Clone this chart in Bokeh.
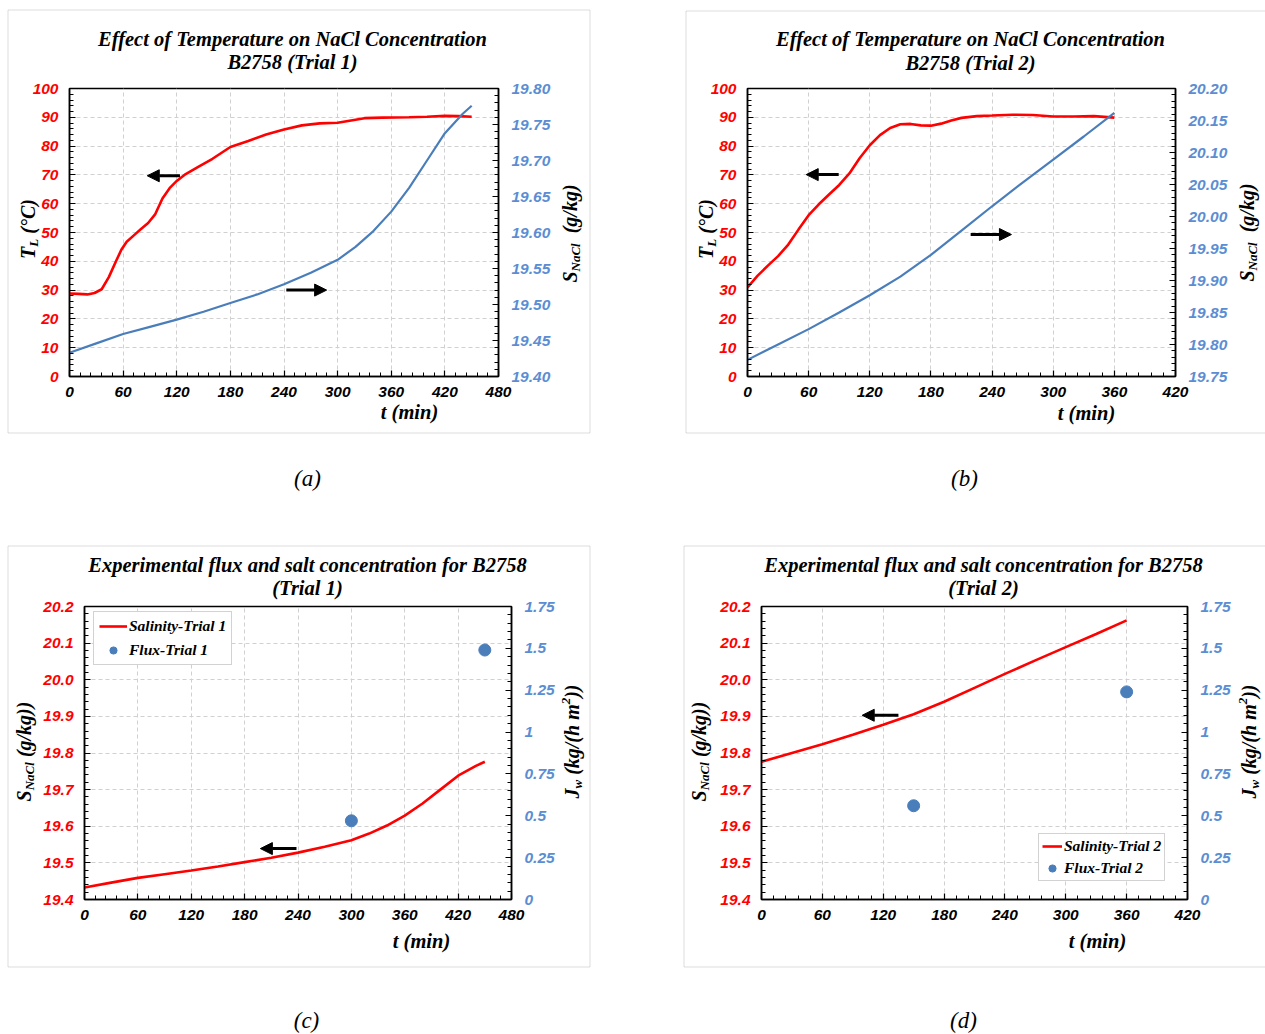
from bokeh.plotting import figure
from bokeh.models import (Range1d, LinearAxis, FixedTicker, PrintfTickFormatter,
                          NumeralTickFormatter, Label, Arrow, NormalHead, Legend,
                          LegendItem, Spacer, GridBox, BoxAnnotation)
from bokeh.layouts import row, column
from bokeh.embed import file_html
from bokeh.resources import INLINE

# ---------------- data ----------------
time_temp_1 = [0, 10, 20, 28, 36, 44, 52, 58, 64, 72, 80, 88, 96, 104, 112, 120, 130, 145,
               160, 180, 200, 220, 240, 260, 280, 300, 315, 330, 350, 380, 400, 420, 435, 450]
temp_1 = [28.8, 28.7, 28.5, 29.0, 30.3, 34.5, 40.0, 44.0, 46.8, 49.0, 51.2, 53.3, 56.4, 61.8,
          65.4, 67.9, 70.3, 73.0, 75.6, 79.7, 81.8, 84.0, 85.8, 87.2, 87.9, 88.1, 88.9, 89.7,
          89.9, 90.0, 90.2, 90.5, 90.4, 90.2]

time_sal_1 = [0, 30, 60, 90, 120, 150, 180, 210, 240, 270, 300, 320, 340, 360, 380, 400, 420, 440, 450]
sal_1 = [19.433, 19.446, 19.459, 19.469, 19.479, 19.490, 19.502, 19.514, 19.528, 19.544,
         19.562, 19.580, 19.602, 19.629, 19.662, 19.700, 19.738, 19.765, 19.776]

time_temp_2 = [0, 10, 20, 30, 40, 50, 60, 70, 80, 90, 100, 110, 120, 130, 140, 150, 160, 170,
               180, 190, 200, 210, 225, 240, 260, 280, 300, 320, 340, 360]
temp_2 = [30.9, 35.0, 38.5, 41.8, 45.8, 51.0, 56.0, 59.8, 63.2, 66.5, 70.5, 75.8, 80.3, 83.8,
          86.3, 87.6, 87.7, 87.2, 87.1, 87.8, 88.9, 89.8, 90.4, 90.6, 90.9, 90.8, 90.3, 90.3,
          90.4, 89.9]

time_sal_2 = [0, 30, 60, 90, 120, 150, 180, 210, 240, 270, 300, 330, 360]
sal_2 = [19.776, 19.800, 19.824, 19.850, 19.877, 19.906, 19.940, 19.978, 20.016, 20.053,
         20.089, 20.125, 20.162]

time_flux_1 = [300, 450]
flux_1 = [0.47, 1.49]
time_flux_2 = [150, 360]
flux_2 = [0.56, 1.24]

x_ticks_480 = [0, 60, 120, 180, 240, 300, 360, 420, 480]
x_ticks_420 = [0, 60, 120, 180, 240, 300, 360, 420]
temp_ticks = [0, 10, 20, 30, 40, 50, 60, 70, 80, 90, 100]
sal_ticks_a = [19.40, 19.45, 19.50, 19.55, 19.60, 19.65, 19.70, 19.75, 19.80]
sal_ticks_b = [19.75, 19.80, 19.85, 19.90, 19.95, 20.00, 20.05, 20.10, 20.15, 20.20]
sal_ticks_cd = [19.4, 19.5, 19.6, 19.7, 19.8, 19.9, 20.0, 20.1, 20.2]
flux_ticks = [0, 0.25, 0.5, 0.75, 1.0, 1.25, 1.5, 1.75]

title_a = ["Effect of Temperature on NaCl Concentration", "B2758 (Trial 1)"]
title_b = ["Effect of Temperature on NaCl Concentration", "B2758 (Trial 2)"]
title_c = ["Experimental flux and salt concentration for B2758", "(Trial 1)"]
title_d = ["Experimental flux and salt concentration for B2758", "(Trial 2)"]
captions = ["(a)", "(b)", "(c)", "(d)"]

# ---------------- styles ----------------
RED = "#FF0000"
BLUE = "#4A7EBB"
BLUE_TXT = "#5B8DD3"
SERIF = "Liberation Serif"
SANS = "Liberation Sans"
PAGE_W, PAGE_H = 1265, 1034

EM = {'T': 611, 'L': 611, 'S': 556, 'N': 722, 'a': 500, 'C': 667, 'l': 278, 'c': 444,
      'J': 500, 'w': 667, 'k': 500, 'g': 500, 'h': 556, 'm': 778, ' ': 250, '(': 333,
      ')': 333, '°': 400, '/': 278, '2': 500}


def em(s):
    return sum(EM.get(ch, 500) for ch in s) / 1000.0


def minor_of(ticks):
    step = (ticks[1] - ticks[0]) / 5.0
    n = int(round((ticks[-1] - ticks[0]) / step))
    return [ticks[0] + i * step for i in range(n + 1)]


def style_axis(ax, ticks, fmt, color, standoff):
    ax.ticker = FixedTicker(ticks=ticks, minor_ticks=minor_of(ticks))
    ax.formatter = fmt
    ax.major_label_text_font = SANS
    ax.major_label_text_font_style = "bold italic"
    ax.major_label_text_font_size = "15.5px"
    ax.major_label_text_color = color
    ax.major_label_standoff = standoff
    ax.axis_line_color = "black"
    ax.axis_line_width = 1.5
    ax.major_tick_line_color = "black"
    ax.major_tick_line_width = 1.2
    ax.minor_tick_line_color = "black"
    ax.minor_tick_line_width = 1
    ax.major_tick_in = 6
    ax.major_tick_out = 0
    ax.minor_tick_in = 4
    ax.minor_tick_out = 0


def make_panel(W, H, box, frame, x_ticks, left_ticks, left_fmt, right_ticks, right_fmt, right_name):
    bl, bt = box
    fl, ft, fr, fb = frame
    p = figure(width=W, height=H,
               x_range=Range1d(x_ticks[0], x_ticks[-1]),
               y_range=Range1d(left_ticks[0], left_ticks[-1]),
               output_backend="svg", toolbar_location=None,
               min_border_left=fl - bl, min_border_right=bl + W - fr,
               min_border_top=ft - bt, min_border_bottom=bt + H - fb)
    p.extra_y_ranges = {right_name: Range1d(right_ticks[0], right_ticks[-1])}
    raxis = LinearAxis(y_range_name=right_name)
    p.add_layout(raxis, "right")
    style_axis(p.below[0], x_ticks, PrintfTickFormatter(format="%d"), "black", 10)
    style_axis(p.left[0], left_ticks, left_fmt, RED, 11)
    style_axis(raxis, right_ticks, right_fmt, BLUE_TXT, 13)
    p.xgrid.grid_line_color = "#d0d0d0"
    p.xgrid.grid_line_dash = "4 3"
    p.ygrid.grid_line_color = "#d0d0d0"
    p.ygrid.grid_line_dash = "4 3"
    p.outline_line_color = "black"
    p.outline_line_width = 1.5
    p.background_fill_color = "white"
    p.border_fill_color = "white"
    return p


def arrow(p, x0, x1, y):
    p.add_layout(Arrow(end=NormalHead(size=12, fill_color="black", line_color="black", line_width=1),
                       x_start=x0, y_start=y, x_end=x1, y_end=y,
                       line_width=3, line_color="black"))


# ---------------- overlay for texts outside the plot frames ----------------
ov = figure(width=PAGE_W, height=PAGE_H, x_range=Range1d(0, PAGE_W), y_range=Range1d(PAGE_H, 0),
            output_backend="svg", toolbar_location=None, min_border=0,
            x_axis_location=None, y_axis_location=None)
ov.grid.visible = False
ov.outline_line_color = None
ov.background_fill_color = None
ov.border_fill_color = None
ov.background_fill_alpha = 0
ov.border_fill_alpha = 0


def put(text, x, y, size, align="left", angle=0, style="bold italic"):
    ov.add_layout(Label(x=x, y=y, text=text, text_align=align, text_baseline="middle",
                        angle=angle, angle_units="deg", text_font=SERIF,
                        text_font_style=style, text_font_size=f"{size}px", text_color="black"))


def rich(pieces, px, py, angle):
    # px, py: visual centre of the label; shifts are toward the letters' bottom
    total = sum(em(t) * s for t, s, _ in pieces)
    pos = -total / 2.0
    for t, s, sh in pieces:
        stripped = t.lstrip(" ")
        a = pos + (len(t) - len(stripped)) * 0.25 * s
        if angle == 0:
            put(stripped, px + a, py + sh, s)
        else:
            put(stripped, px + sh, py - a, s, angle=90)
        pos += em(t) * s


def titles(lines, cx, y1, y2):
    put(lines[0], cx, y1, 20.5, align="center")
    put(lines[1], cx, y2, 20.5, align="center")


def border(l, t, r, b):
    ov.add_layout(BoxAnnotation(left=l + 0.5, right=r - 0.5, top=t + 0.5, bottom=b - 0.5,
                                fill_color=None, fill_alpha=0, line_color="#8f8f8f",
                                line_width=1))


T_LABEL = [("T", 20, 0), ("L", 13, 6), (" (°C)", 20, 0)]
S_LABEL_AB = [("S", 20, 0), ("NaCl", 13, 6), ("  (g/kg)", 20, 0)]
S_LABEL_CD = [("S", 20, 0), ("NaCl", 13, 6), (" (g/kg))", 20, 0)]
J_LABEL = [("J", 20, 0), ("w", 13, 6), (" (kg/(h m", 20, 0), ("2", 13, -6), ("))", 20, 0)]
T_MIN = "t (min)"

# ---------------- panel (a) ----------------
pa = make_panel(583, 424, (7, 9), (69, 88, 498, 377), x_ticks_480, temp_ticks,
                PrintfTickFormatter(format="%d"), sal_ticks_a,
                PrintfTickFormatter(format="%.2f"), "sal")
pa.line(time_temp_1, temp_1, line_color=RED, line_width=2.6)
pa.line(time_sal_1, sal_1, line_color=BLUE, line_width=2.2, y_range_name="sal")
arrow(pa, 123.6, 87.0, 69.7)
arrow(pa, 242.6, 287.7, 30.0)
border(7, 9, 590, 433)
titles(title_a, 292, 38, 61)
rich(T_LABEL, 27, 228.5, 90)
rich(S_LABEL_AB, 569, 233, 90)
put(T_MIN, 409, 411, 20.5, align="center")

# ---------------- panel (b) ----------------
pb = make_panel(580, 424, (685, 9), (747, 87, 1175, 376), x_ticks_420, temp_ticks,
                PrintfTickFormatter(format="%d"), sal_ticks_b,
                PrintfTickFormatter(format="%.2f"), "sal")
pb.line(time_temp_2, temp_2, line_color=RED, line_width=2.6)
pb.line(time_sal_2, sal_2, line_color=BLUE, line_width=2.2, y_range_name="sal")
arrow(pb, 89.5, 57.6, 70.1)
arrow(pb, 219.0, 259.0, 49.3)
border(685, 10, 1266, 433)
titles(title_b, 970, 38, 62)
rich(T_LABEL, 705, 228.5, 90)
rich(S_LABEL_AB, 1246, 232, 90)
put(T_MIN, 1086, 412, 20.5, align="center")

# ---------------- panel (c) ----------------
pc = make_panel(583, 422, (7, 545), (84, 606, 511, 899), x_ticks_480, sal_ticks_cd,
                PrintfTickFormatter(format="%.1f"), flux_ticks,
                NumeralTickFormatter(format="0.[00]"), "flux")
rc1 = pc.line(time_sal_1, sal_1, line_color=RED, line_width=2.6)
rc2 = pc.scatter(time_flux_1, flux_1, size=12, marker="circle", fill_color=BLUE,
                 line_color=BLUE, y_range_name="flux")
arrow(pc, 238.3, 197.7, 19.539)
border(7, 545, 590, 967)
titles(title_c, 307, 564, 587)
rich(S_LABEL_CD, 23, 751, 90)
rich(J_LABEL, 571, 741, 90)
put(T_MIN, 421, 940, 20.5, align="center")

# ---------------- panel (d) ----------------
pd_ = make_panel(582, 422, (683, 545), (761, 606, 1187, 899), x_ticks_420, sal_ticks_cd,
                 PrintfTickFormatter(format="%.1f"), flux_ticks,
                 NumeralTickFormatter(format="0.[00]"), "flux")
rd1 = pd_.line(time_sal_2, sal_2, line_color=RED, line_width=2.6)
rd2 = pd_.scatter(time_flux_2, flux_2, size=12, marker="circle", fill_color=BLUE,
                  line_color=BLUE, y_range_name="flux")
arrow(pd_, 135.0, 99.3, 19.903)
border(683, 545, 1266, 967)
titles(title_d, 983, 564, 587)
rich(S_LABEL_CD, 698, 751, 90)
rich(J_LABEL, 1248, 741, 90)
put(T_MIN, 1097, 940, 20.5, align="center")

# ---------------- captions ----------------
for text, x, y in zip(captions, [307, 964, 306, 963], [478, 478, 1020, 1020]):
    put(text, x, y, 23, align="center", style="italic")


def make_legend(items, location, padding, spacing, h, gw, margin=7):
    return Legend(items=items, location=location, padding=padding, spacing=spacing,
                  glyph_width=gw, glyph_height=h, label_height=h, label_standoff=2,
                  margin=margin, border_line_color="#a6a6a6", border_line_width=1,
                  background_fill_color="white", background_fill_alpha=1,
                  label_text_font=SERIF, label_text_font_style="bold italic",
                  label_text_font_size="15.5px", label_text_color="black")


pc.add_layout(make_legend([LegendItem(label="Salinity-Trial 1", renderers=[rc1]),
                           LegendItem(label="Flux-Trial 1", renderers=[rc2])],
                          (9, 234), 5, 6, 18, 28))
pd_.add_layout(make_legend([LegendItem(label="Salinity-Trial 2", renderers=[rd1]),
                            LegendItem(label="Flux-Trial 2", renderers=[rd2])],
                           (277, 18), 3, 4, 18, 20))

top_row = row(Spacer(width=7, height=424), pa, Spacer(width=95, height=424), pb)
bottom_row = row(Spacer(width=7, height=422), pc, Spacer(width=93, height=422), pd_)
base = column(Spacer(width=PAGE_W, height=9), top_row, Spacer(width=PAGE_W, height=112),
              bottom_row, Spacer(width=PAGE_W, height=67))

page = GridBox(children=[(base, 0, 0), (ov, 0, 0)])

open("out.html", "w").write(file_html(page, INLINE))
